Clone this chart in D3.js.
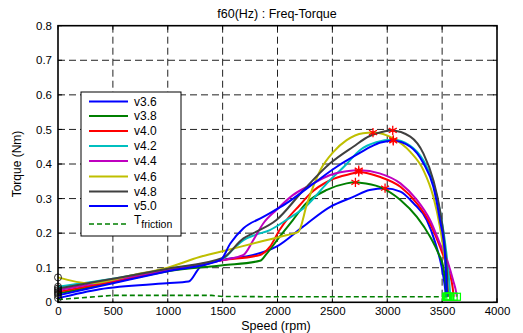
<!DOCTYPE html>
<html><head><meta charset="utf-8">
<script src="https://cdn.jsdelivr.net/npm/d3@7"></script>
<style>body{margin:0;background:#fff}svg{display:block;font-family:"Liberation Sans",Arial,sans-serif}</style>
</head><body>
<svg id="c" width="523" height="333"></svg>
<script>
const seriesNames = ["v3.6","v3.8","v4.0","v4.2","v4.4","v4.6","v4.8","v5.0"];
const seriesColors = ["#0000ff","#007f00","#ff0000","#00bfbf","#bf00bf","#bfbf00","#404040","#0000ff"];
const v36 = [[0,0.012],[380,0.038],[990,0.055],[1190,0.06],[1290,0.1],[1420,0.117],[1500,0.123],[1780,0.137],[1990,0.161],[2230,0.218],[2480,0.276],[2690,0.305],[2840,0.325],[2980,0.33],[3120,0.32],[3240,0.286],[3360,0.238],[3440,0.17],[3495,0.103],[3525,0.045],[3535,0.016]];
const v38 = [[0,0.025],[500,0.057],[1000,0.09],[1500,0.107],[1840,0.12],[1900,0.14],[2020,0.19],[2140,0.238],[2260,0.286],[2450,0.325],[2630,0.344],[2710,0.347],[2750,0.346],[2930,0.334],[3120,0.296],[3270,0.247],[3390,0.19],[3465,0.142],[3510,0.103],[3535,0.045],[3545,0.016]];
const v40 = [[0,0.03],[500,0.06],[1000,0.092],[1500,0.122],[1840,0.137],[1930,0.16],[2020,0.21],[2100,0.245],[2200,0.28],[2300,0.315],[2480,0.353],[2690,0.373],[2740,0.377],[2930,0.363],[3120,0.334],[3270,0.286],[3390,0.228],[3480,0.161],[3545,0.103],[3595,0.045],[3605,0.016]];
const v42 = [[0,0.045],[500,0.068],[1000,0.096],[1500,0.125],[1600,0.155],[1690,0.18],[1800,0.195],[1930,0.209],[2080,0.238],[2270,0.281],[2450,0.344],[2630,0.4],[2750,0.44],[2900,0.463],[3050,0.47],[3200,0.455],[3330,0.41],[3420,0.345],[3480,0.265],[3530,0.165],[3565,0.06],[3575,0.016]];
const v44 = [[0,0.035],[500,0.064],[1000,0.094],[1500,0.122],[1690,0.137],[1780,0.18],[1870,0.228],[1990,0.267],[2140,0.31],[2300,0.339],[2480,0.368],[2690,0.381],[2750,0.382],[2930,0.373],[3120,0.344],[3270,0.296],[3390,0.238],[3480,0.17],[3555,0.113],[3600,0.064],[3630,0.026],[3635,0.016]];
const v46 = [[0,0.072],[290,0.055],[700,0.08],[1000,0.1],[1290,0.131],[1480,0.146],[1840,0.175],[2080,0.194],[2190,0.204],[2270,0.286],[2390,0.382],[2510,0.435],[2630,0.469],[2780,0.489],[2870,0.491],[3055,0.474],[3210,0.435],[3330,0.382],[3420,0.305],[3480,0.218],[3525,0.122],[3555,0.026],[3560,0.016]];
const v48 = [[0,0.04],[500,0.068],[1000,0.097],[1500,0.128],[1690,0.185],[1780,0.2],[1990,0.238],[2230,0.322],[2480,0.402],[2690,0.45],[2840,0.481],[2900,0.488],[3040,0.497],[3210,0.479],[3330,0.43],[3420,0.353],[3480,0.267],[3525,0.16],[3547,0.064],[3552,0.016]];
const v50 = [[0,0.02],[500,0.055],[1000,0.09],[1480,0.122],[1570,0.17],[1690,0.214],[1870,0.247],[2080,0.286],[2330,0.344],[2540,0.392],[2750,0.432],[2850,0.45],[2940,0.462],[3055,0.467],[3210,0.45],[3330,0.402],[3420,0.334],[3480,0.238],[3525,0.142],[3540,0.045],[3545,0.016]];
const friction = [[0,0.008],[500,0.02],[1400,0.02],[1500,0.017],[2000,0.016],[3550,0.016]];
const peakSpeed = [2980,2710,2740,3055,2740,2870,3050,3055];
const peakTorque = [0.33,0.347,0.377,0.47,0.382,0.491,0.497,0.467];
const xTicks = [0,500,1000,1500,2000,2500,3000,3500,4000];
const yTicks = [0,0.1,0.2,0.3,0.4,0.5,0.6,0.7,0.8];
const yTickLabels = ["0","0.1","0.2","0.3","0.4","0.5","0.6","0.7","0.8"];
const allSeries = [v36,v38,v40,v42,v44,v46,v48,v50];

const svg = d3.select("#c");
const L=58,R=497,T=25.7,B=302.3;
const x = d3.scaleLinear().domain([0,4000]).range([L,R]);
const y = d3.scaleLinear().domain([0,0.8]).range([B,T]);

// grid
const g = svg.append("g");
g.selectAll(".vg").data(xTicks.slice(1,-1)).enter().append("line")
 .attr("x1",d=>x(d)).attr("x2",d=>x(d)).attr("y1",T).attr("y2",B)
 .attr("stroke","#222").attr("stroke-dasharray","7,4").attr("stroke-width",1);
g.selectAll(".hg").data(yTicks.slice(1,-1)).enter().append("line")
 .attr("y1",d=>y(d)).attr("y2",d=>y(d)).attr("x1",L).attr("x2",R)
 .attr("stroke","#222").attr("stroke-dasharray","7,4").attr("stroke-width",1);

// axes
const xa = svg.append("g").attr("transform",`translate(0,${B})`)
 .call(d3.axisBottom(x).tickValues(xTicks).tickSize(0).tickPadding(5).tickFormat(d3.format("d")));
const ya = svg.append("g").attr("transform",`translate(${L},0)`)
 .call(d3.axisLeft(y).tickValues(yTicks).tickSize(0).tickPadding(6).tickFormat((d,i)=>yTickLabels[i]));
[xa,ya].forEach(a=>{a.select(".domain").remove();a.selectAll("text").attr("font-size",11.5).attr("fill","#000").attr("font-family","Liberation Sans, Arial, sans-serif");});
// inward ticks
svg.append("g").selectAll("line").data(xTicks).enter().append("line")
 .attr("x1",d=>x(d)).attr("x2",d=>x(d)).attr("y1",B).attr("y2",B-4).attr("stroke","#000");
svg.append("g").selectAll("line").data(xTicks).enter().append("line")
 .attr("x1",d=>x(d)).attr("x2",d=>x(d)).attr("y1",T).attr("y2",T+4).attr("stroke","#000");
svg.append("g").selectAll("line").data(yTicks).enter().append("line")
 .attr("y1",d=>y(d)).attr("y2",d=>y(d)).attr("x1",L).attr("x2",L+4).attr("stroke","#000");
svg.append("g").selectAll("line").data(yTicks).enter().append("line")
 .attr("y1",d=>y(d)).attr("y2",d=>y(d)).attr("x1",R).attr("x2",R-4).attr("stroke","#000");

// curves
const line = d3.line().x(d=>x(d[0])).y(d=>y(d[1])).curve(d3.curveMonotoneX);
svg.append("path").datum(friction).attr("d",d3.line().x(d=>x(d[0])).y(d=>y(d[1])))
 .attr("fill","none").attr("stroke","#007f00").attr("stroke-width",1.6).attr("stroke-dasharray","5,3");
allSeries.forEach((s,i)=>{
  svg.append("path").datum(s).attr("d",line).attr("fill","none")
   .attr("stroke",seriesColors[i]).attr("stroke-width",2);
});
// markers
allSeries.forEach((s,i)=>{
  svg.append("circle").attr("cx",x(s[0][0])).attr("cy",y(s[0][1])).attr("r",3.5)
   .attr("fill","none").attr("stroke","#000").attr("stroke-width",0.8);
  const e=s[s.length-1];
  svg.append("rect").attr("x",x(e[0])-3.5).attr("y",y(e[1])-3.5).attr("width",7).attr("height",7)
   .attr("fill","none").attr("stroke","#00ff00").attr("stroke-width",1.2);
});
const star = d3.symbol().type(d3.symbolAsterisk).size(60);
peakSpeed.forEach((p,i)=>{
  svg.append("path").attr("d",star).attr("transform",`translate(${x(p)},${y(peakTorque[i])})`)
   .attr("fill","none").attr("stroke","#ff0000").attr("stroke-width",1.3);
});

// frame
svg.append("rect").attr("x",L).attr("y",T).attr("width",R-L).attr("height",B-T)
 .attr("fill","none").attr("stroke","#000").attr("stroke-width",1.6);

// titles
svg.append("text").attr("x",277).attr("y",18).attr("text-anchor","middle").attr("font-size",12.5).text("f60(Hz) : Freq-Torque");
svg.append("text").attr("x",276).attr("y",330).attr("text-anchor","middle").attr("font-size",12.5).text("Speed (rpm)");
svg.append("text").attr("transform","translate(21,164) rotate(-90)").attr("text-anchor","middle").attr("font-size",12).text("Torque (Nm)");

// legend
const lg = svg.append("g");
lg.append("rect").attr("x",81).attr("y",92).attr("width",100).attr("height",144).attr("fill","#fff").attr("stroke","#000").attr("stroke-width",1);
const ly = [101.5,116,131,146,161,176.5,191.5,206];
seriesNames.forEach((n,i)=>{
  lg.append("line").attr("x1",89).attr("x2",128).attr("y1",ly[i]).attr("y2",ly[i]).attr("stroke",seriesColors[i]).attr("stroke-width",2);
  lg.append("text").attr("x",134).attr("y",ly[i]+4).attr("font-size",12).text(n);
});
lg.append("line").attr("x1",89).attr("x2",128).attr("y1",224).attr("y2",224).attr("stroke","#007f00").attr("stroke-width",1.6).attr("stroke-dasharray","5,3");
const ft = lg.append("text").attr("x",134).attr("y",224).attr("font-size",12);
ft.append("tspan").text("T");
ft.append("tspan").attr("dy",4).attr("font-size",10.5).text("friction");
</script>
</body></html>
